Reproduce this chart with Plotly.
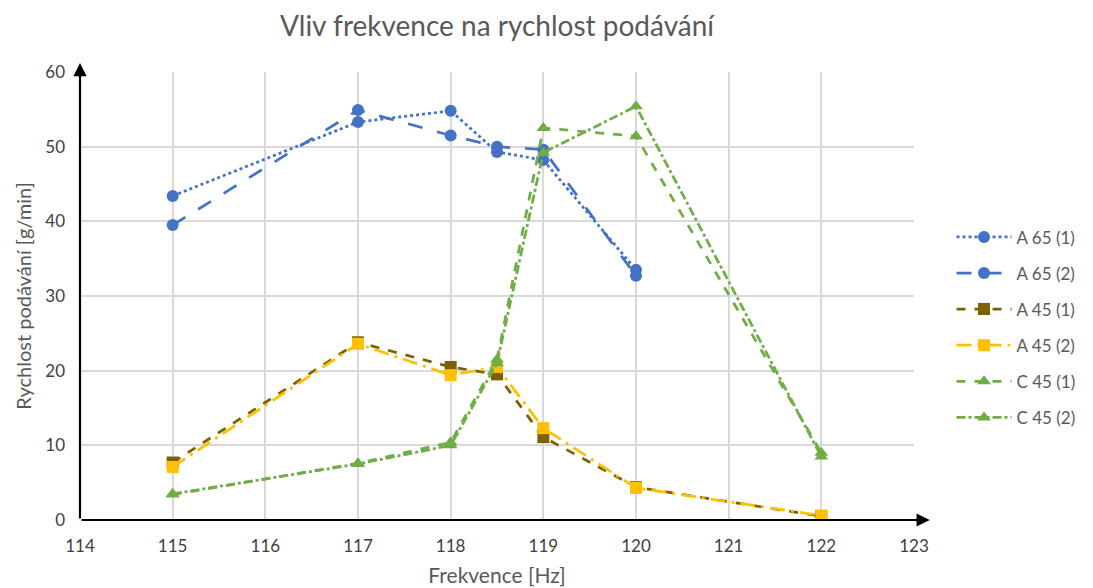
import plotly.graph_objects as go

freq = [115, 117, 118, 118.5, 119, 120, 122]
a65_1 = [43.4, 53.3, 54.8, 49.3, 48.2, 33.5, None]
a65_2 = [39.5, 54.9, 51.5, 50.0, 49.6, 32.7, None]
a45_1 = [7.7, 23.8, 20.5, 19.5, 11.1, 4.4, 0.5]
a45_2 = [7.1, 23.6, 19.4, 20.5, 12.3, 4.3, 0.6]
c45_1 = [3.4, 7.6, 10.4, 21.5, 52.5, 51.4, 9.0]
c45_2 = [3.5, 7.5, 10.0, 21.0, 49.2, 55.4, 8.5]

series = [
    ("A 65 (1)", a65_1, "#4472C4", "dot", "circle"),
    ("A 65 (2)", a65_2, "#4472C4", "longdash", "circle"),
    ("A 45 (1)", a45_1, "#7F6000", "dash", "square"),
    ("A 45 (2)", a45_2, "#FFC000", "longdashdot", "square"),
    ("C 45 (1)", c45_1, "#70AD47", "dash", "triangle-up"),
    ("C 45 (2)", c45_2, "#70AD47", "dashdot", "triangle-up"),
]

fig = go.Figure()
for name, ys, color, dash, sym in series:
    xs = [x for x, y in zip(freq, ys) if y is not None]
    yv = [y for y in ys if y is not None]
    fig.add_trace(go.Scatter(
        x=xs, y=yv, name=name, mode="lines+markers",
        line=dict(color=color, width=2.75, dash=dash),
        marker=dict(color=color, size=12, symbol=sym),
        legendgroup=name,
    ))

title_color = "#595959"
tick_color = "#404040"
fig.update_layout(
    width=1085, height=580,
    paper_bgcolor="white", plot_bgcolor="white",
    margin=dict(l=72, r=177, t=64, b=68),
    font=dict(family="Lato, Open Sans, sans-serif", size=16, color=title_color),
    title=dict(text="Vliv frekvence na rychlost podávání", x=0.5, xref="paper",
               xanchor="center", y=0.968, yanchor="middle",
               font=dict(size=28, color=title_color)),
    showlegend=True,
    legend=dict(x=1.045, xanchor="left", y=0.43, yanchor="middle",
                font=dict(size=17, color=title_color), tracegroupgap=11,
                itemwidth=55, bgcolor="rgba(0,0,0,0)"),
    xaxis=dict(range=[114, 123], dtick=1, tick0=114, showgrid=True,
               gridcolor="#D9D9D9", gridwidth=1.5, zeroline=False,
               showline=False, ticks="", ticklabelstandoff=14, automargin=False,
               tickfont=dict(size=17, color=tick_color),
               title=dict(text="Frekvence [Hz]", standoff=13,
                          font=dict(size=21, color=title_color))),
    yaxis=dict(range=[0, 60], dtick=10, showgrid=True, gridcolor="#D9D9D9",
               gridwidth=1.5, zeroline=False, showline=False, ticks="",
               ticklabelstandoff=14, automargin=False,
               tickfont=dict(size=17, color=tick_color),
               title=dict(text="Rychlost podávání [g/min]", standoff=8,
                          font=dict(size=20, color=title_color))),
)

# axis arrows
fig.add_annotation(x=123.17, y=0, ax=114, ay=0, xref="x", yref="y",
                   axref="x", ayref="y", showarrow=True, arrowhead=2,
                   arrowsize=1.2, arrowwidth=2.2, arrowcolor="black", text="")
fig.add_annotation(x=114, y=61.2, ax=114, ay=0, xref="x", yref="y",
                   axref="x", ayref="y", showarrow=True, arrowhead=2,
                   arrowsize=1.2, arrowwidth=2.2, arrowcolor="black", text="")

fig.write_html("out.html")
